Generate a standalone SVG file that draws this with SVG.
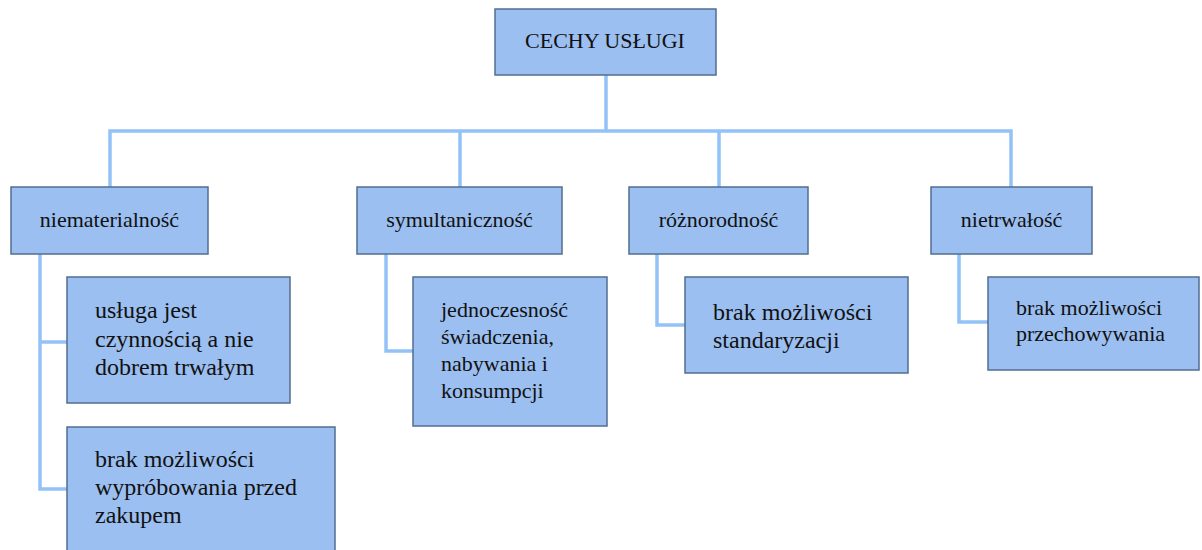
<svg xmlns="http://www.w3.org/2000/svg" width="1202" height="550" viewBox="0 0 1202 550">
  <style>
    .box { fill: #9bbff0; stroke: #526d91; stroke-width: 1.5; }
    .wire { fill: none; stroke: #92c2f6; stroke-width: 3.5; stroke-linejoin: miter; }
    text { fill: #111; }
    .c { text-anchor: middle; font-size: 22px; }
    .l { font-size: 24px; }
    .s { font-size: 22px; }
  </style>
  <rect width="1202" height="550" fill="#ffffff"/>

  <g id="connectors">
    <!-- root to the main rail -->
    <path class="wire" d="M606 75 V131"/>
    <path class="wire" d="M110 187 V131 H1011 V187"/>
    <path class="wire" d="M460 131 V187"/>
    <path class="wire" d="M719 131 V187"/>
    <!-- branch to detail links -->
    <path class="wire" d="M40 254 V489 H67"/>
    <path class="wire" d="M40 342 H67"/>
    <path class="wire" d="M386 254 V351 H413"/>
    <path class="wire" d="M657 254 V325 H685"/>
    <path class="wire" d="M959 254 V322 H988"/>
  </g>

  <g font-family="'Liberation Serif', 'DejaVu Serif', 'Times New Roman', serif">
  <g id="root">
    <rect class="box" x="495" y="9" width="221" height="66"/>
    <text class="c" x="605" y="48">CECHY USŁUGI</text>
  </g>

  <g id="niematerialnosc">
    <rect class="box" x="11" y="187" width="197" height="67"/>
    <text class="c" x="109.5" y="227">niematerialność</text>
  </g>
  <g id="symultanicznosc">
    <rect class="box" x="357" y="187" width="205" height="67"/>
    <text class="c" x="459.5" y="227">symultaniczność</text>
  </g>
  <g id="roznorodnosc">
    <rect class="box" x="629" y="187" width="179" height="67"/>
    <text class="c" x="718.5" y="227">różnorodność</text>
  </g>
  <g id="nietrwalosc">
    <rect class="box" x="931" y="187" width="161" height="67"/>
    <text class="c" x="1011.5" y="227">nietrwałość</text>
  </g>

  <g id="czynnosc">
    <rect class="box" x="67" y="277" width="223" height="126"/>
    <text class="l" x="95" y="318">usługa jest</text>
    <text class="l" x="95" y="347">czynnością a nie</text>
    <text class="l" x="95" y="375">dobrem trwałym</text>
  </g>
  <g id="wyprobowanie">
    <rect class="box" x="67" y="427" width="268" height="130"/>
    <text class="l" x="95" y="467">brak możliwości</text>
    <text class="l" x="95" y="495">wypróbowania przed</text>
    <text class="l" x="95" y="523">zakupem</text>
  </g>
  <g id="jednoczesnosc">
    <rect class="box" x="413" y="277" width="194" height="149"/>
    <text class="s" x="441" y="317">jednoczesność</text>
    <text class="s" x="441" y="344">świadczenia,</text>
    <text class="s" x="441" y="371">nabywania i</text>
    <text class="s" x="441" y="398">konsumpcji</text>
  </g>
  <g id="standaryzacja">
    <rect class="box" x="685" y="277" width="223" height="96"/>
    <text class="l" x="713" y="320">brak możliwości</text>
    <text class="l" x="713" y="348">standaryzacji</text>
  </g>
  <g id="przechowywanie">
    <rect class="box" x="988" y="277" width="211" height="93"/>
    <text class="s" x="1016" y="315">brak możliwości</text>
    <text class="s" x="1016" y="341">przechowywania</text>
  </g>
  </g>
</svg>
